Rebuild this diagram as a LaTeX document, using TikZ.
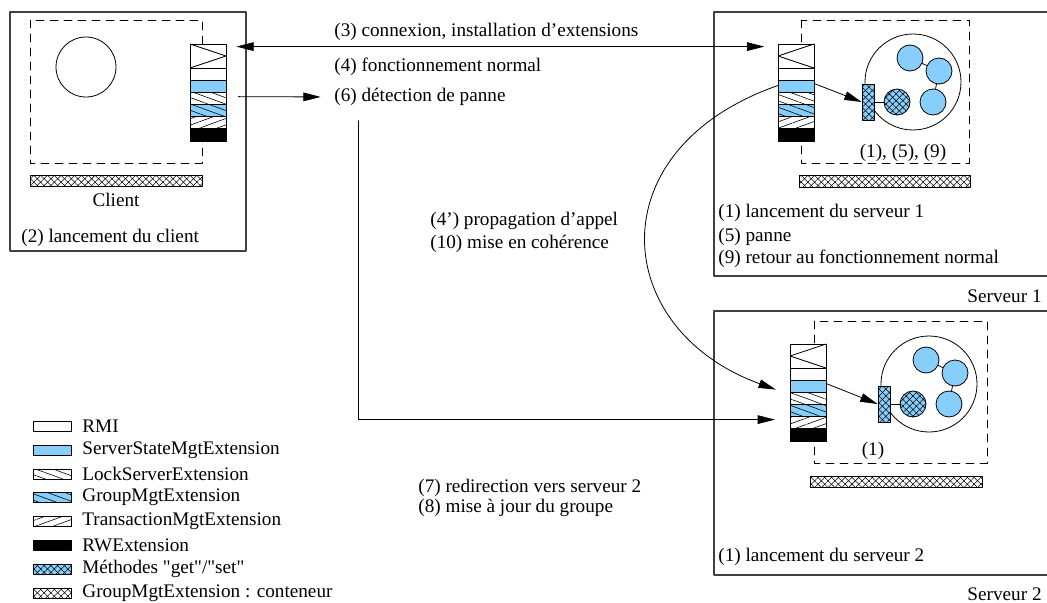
\documentclass[tikz,border=0pt]{standalone}
\usepackage{fontspec}
\setmainfont{Liberation Serif}
\usepackage{tikz}
\usetikzlibrary{arrows.meta,patterns.meta}
\definecolor{bleuext}{RGB}{135,206,250}
\tikzset{
  cadre/.style={draw=black!75,line width=0.9pt},
  pointille/.style={dash pattern=on 6pt off 4.5pt,line width=0.7pt},
  hachg/.style={postaction={pattern={Lines[angle=-20,distance=4.5pt,line width=0.45pt]}}},
  hachd/.style={postaction={pattern={Lines[angle=20,distance=4.5pt,line width=0.45pt]}}},
  quadr/.style={postaction={pattern={Lines[angle=45,distance=3.6pt,line width=0.4pt]}},
                postaction={pattern={Lines[angle=-45,distance=3.6pt,line width=0.4pt]}}},
  etiq/.style={anchor=west,inner sep=0pt},
  grand/.style={draw,circle,minimum size=72pt,inner sep=0pt},
  objet/.style={draw,circle,fill=bleuext,minimum size=19.5pt,inner sep=0pt},
  meth/.style={draw,fill=bleuext,quadr,minimum width=9pt,minimum height=27pt,inner sep=0pt},
  pile/.style={minimum width=27pt,minimum height=72.75pt,inner sep=0pt},
}
% pile d'extensions : nom, x, y, sommet du zigzag (0 ou 36)
\newcommand{\pileext}[4]{%
  \begin{scope}[shift={(#2,#3)}]
    \draw[fill=white] (0,0) rectangle (36,24);
    \draw (36-#4,0) -- (#4,12) -- (36-#4,24);
    \draw[fill=white] (0,24) rectangle (36,36);
    \draw[fill=bleuext] (0,36) rectangle (36,48);
    \draw[fill=white,hachg] (0,48) rectangle (36,60);
    \draw[fill=bleuext,hachg] (0,60) rectangle (36,72);
    \draw[fill=white,hachd] (0,72) rectangle (36,84);
    \draw[fill=black] (0,84) rectangle (36,97);
  \end{scope}
  \node[pile] (#1) at (#2+18,#3+48.5) {};
}
% objets du serveur : nom, centre x, centre y
\newcommand{\composant}[3]{%
  \node[grand] (#1) at (#2,#3) {};
  \node[objet] (#1-a) at (#2-3,#3-24) {};
  \node[objet] (#1-b) at (#2+26,#3-11) {};
  \node[objet] (#1-c) at (#2+20,#3+20) {};
  \node[objet,quadr] (#1-m) at (#2-16,#3+20) {};
  \node[meth] (#1-r) at (#2-45,#3+20) {};
  \draw (#1-a) -- (#1-b) -- (#1-c);
  \draw (#1-r) -- (#1-m);
}
\begin{document}
\begin{tikzpicture}[line cap=round,line join=round,>={Triangle[length=13pt,width=6.5pt]},x=0.75pt,y=-0.75pt,line width=0.6pt,
  every node/.style={font=\fontsize{14.4}{17}\selectfont}]
\useasboundingbox (0,0) rectangle (1047,603);
% client
\draw[cadre] (10,12) rectangle (246,251);
\draw[pointille] (30,20) rectangle (202,163);
\node[draw,circle,minimum size=45pt,inner sep=0pt] (objC) at (86,67) {};
\draw[fill=white,quadr] (30,175) rectangle (202,186);
\node (nomC) at (116,200) {Client};
\node[etiq] (lanceC) at (21,238) {(2) lancement du client};
\pileext{pileC}{190}{44}{36}
% serveur 1
\draw[cadre] (714,12) rectangle (1060,276);
\draw[pointille] (801,20) rectangle (969,163);
\composant{cS1}{913}{82}
\draw[fill=white,quadr] (799,175) rectangle (970,187);
\node (etatS1) at (903,153) {(1), (5), (9)};
\node[etiq] (lanceS1) at (718,213) {(1) lancement du serveur 1};
\node[etiq] (panneS1) at (718,237) {(5) panne};
\node[etiq] (retourS1) at (718,259) {(9) retour au fonctionnement normal};
\node[anchor=east,inner sep=0pt] (nomS1) at (1042,296) {Serveur 1};
\pileext{pileS1}{778}{44}{0}
\draw[->] ([yshift=-30pt]pileS1.north east) -- (cS1-r.west);
% serveur 2
\draw[cadre] (714,311) rectangle (1060,575);
\draw[pointille] (814,321) rectangle (987,463);
\composant{cS2}{929}{384}
\draw[fill=white,quadr] (810,476) rectangle (982,487);
\node (etatS2) at (873,451) {(1)};
\node[etiq] (lanceS2) at (718,557) {(1) lancement du serveur 2};
\node[anchor=east,inner sep=0pt] (nomS2) at (1042,594) {Serveur 2};
\pileext{pileS2}{790}{344}{0}
\draw[->] ([yshift=-30pt]pileS2.north east) -- (cS2-r.west);
% echanges
\node[etiq] (cnx) at (334,32) {(3) connexion, installation d'extensions};
\node[etiq] (fonct) at (334,67) {(4) fonctionnement normal};
\node[etiq] (detect) at (334,97) {(6) d\'etection de panne};
\draw[<->,shorten <=7.5pt,shorten >=10pt] ([yshift=-2.25pt]pileC.north east) -- ([yshift=-2.25pt]pileS1.north west);
\draw[->,shorten <=9pt,shorten >=10pt] ([yshift=-39.75pt]pileC.north east) -- (detect.west);
\draw[->,shorten >=11pt] ([xshift=18pt,yshift=-11pt]detect.south west) |- ([yshift=-57pt]pileS2.north west);
\draw[->,shorten >=11pt] ([yshift=-31.5pt]pileS1.north west) .. controls +(-182,64) and +(-179,-65) .. ([yshift=-38.25pt]pileS2.north west);
\node[etiq] (propag) at (430,221) {(4') propagation d'appel};
\node[etiq] (coher) at (430,244) {(10) mise en coh\'erence};
\node[etiq] (redir) at (418,488) {(7) redirection vers serveur 2};
\node[etiq] (majgr) at (418,508) {(8) mise \`a jour du groupe};
% legende
\draw[fill=white] (33,421) rectangle (71,431);
\node[etiq] (legRMI) at (82,426) {RMI};
\draw[fill=bleuext] (33,445) rectangle (71,455);
\node[etiq] (legEtat) at (82,450) {ServerStateMgtExtension};
\draw[fill=white,hachg] (33,469) rectangle (71,479);
\node[etiq] (legVerrou) at (82,474) {LockServerExtension};
\draw[fill=bleuext,hachg] (33,492) rectangle (71,502);
\node[etiq] (legGroupe) at (82,497) {GroupMgtExtension};
\draw[fill=white,hachd] (33,516) rectangle (71,526);
\node[etiq] (legTrans) at (82,521) {TransactionMgtExtension};
\draw[fill=black] (33,540) rectangle (71,550);
\node[etiq] (legRW) at (82,545) {RWExtension};
\draw[fill=bleuext,quadr] (33,564) rectangle (71,574);
\node[etiq] (legMeth) at (82,569) {M\'ethodes \textquotedbl get\textquotedbl/\textquotedbl set\textquotedbl};
\draw[fill=white,quadr] (33,588) rectangle (71,598);
\node[etiq] (legCont) at (82,593) {GroupMgtExtension : conteneur};
\end{tikzpicture}
\end{document}
